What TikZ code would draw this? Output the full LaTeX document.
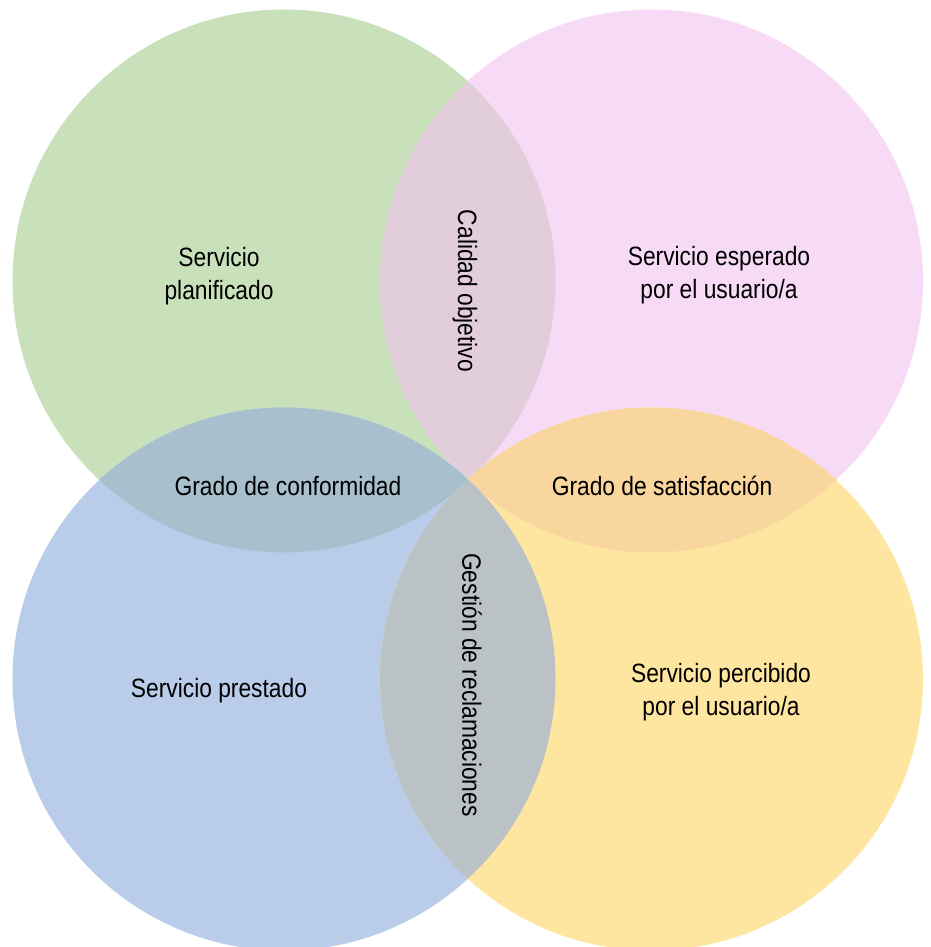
\documentclass[tikz,border=0pt]{standalone}
\usepackage{fontspec}
\setmainfont{Liberation Sans}[FakeStretch=0.86]
\definecolor{cgreen}{HTML}{C9E1BB}
\definecolor{cpink}{HTML}{F6DAF6}
\definecolor{cblue}{HTML}{B9CCEA}
\definecolor{cyellow}{HTML}{FEE6A1}
\definecolor{cgp}{HTML}{E2CEDB}
\definecolor{cgb}{HTML}{A8BFCE}
\definecolor{cpy}{HTML}{F9D69E}
\definecolor{cby}{HTML}{BAC2C6}
\tikzset{
  lbl/.style={font=\fontsize{26.5}{33}\selectfont, align=center, inner sep=0pt, text=black},
  vlbl/.style={lbl, rotate=-90}
}
\begin{document}
\begin{tikzpicture}[x=1pt,y=-1pt]
\useasboundingbox (0,0) rectangle (930,947);
\fill[white] (0,0) rectangle (930,947);
\coordinate (G) at (284,281);
\coordinate (P) at (651.5,281);
\coordinate (B) at (284,679);
\coordinate (Y) at (651.5,679);
\fill[cgreen] (G) circle[radius=271.5pt];
\fill[cpink] (P) circle[radius=271.5pt];
\fill[cblue] (B) circle[radius=271.5pt];
\fill[cyellow] (Y) circle[radius=271.5pt];
\begin{scope}
  \clip (G) circle[radius=271.5pt];
  \fill[cgp] (P) circle[radius=271.5pt];
  \fill[cgb] (B) circle[radius=271.5pt];
\end{scope}
\begin{scope}
  \clip (Y) circle[radius=271.5pt];
  \fill[cpy] (P) circle[radius=271.5pt];
  \fill[cby] (B) circle[radius=271.5pt];
\end{scope}
\node[lbl] (plan) at (219,276) {Servicio\\planificado};
\node[lbl] (esp) at (719,275.5) {Servicio esperado\\por el usuario/a};
\node[lbl] (perc) at (721,692.5) {Servicio percibido\\por el usuario/a};
\node[lbl] (prest) at (219,690.5) {Servicio prestado};
\node[lbl] (conf) at (288,486) {Grado de conformidad};
\node[lbl] (sat) at (662,486) {Grado de satisfacción};
\node[vlbl] (cal) at (465,291) {Calidad objetivo};
\node[vlbl] (gest) at (472,685) {Gestión de reclamaciones};
\end{tikzpicture}
\end{document}
